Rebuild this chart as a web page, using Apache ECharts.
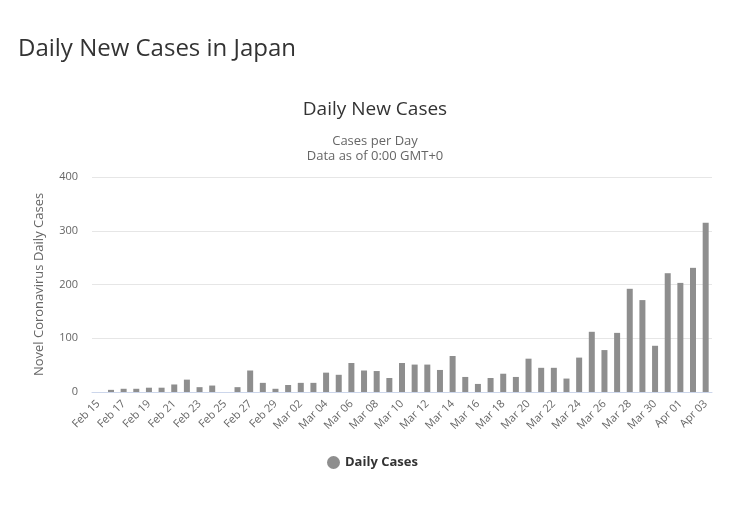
<!DOCTYPE html>
<html>
<head>
<meta charset="utf-8">
<script src="https://cdn.jsdelivr.net/npm/echarts@6/dist/echarts.min.js"></script>
<style>
html,body{margin:0;padding:0;background:#fff;}
#chart{width:730px;height:515px;}
</style>
</head>
<body>
<div id="chart"></div>
<script>
const categories = ["Feb 15","Feb 16","Feb 17","Feb 18","Feb 19","Feb 20","Feb 21","Feb 22","Feb 23","Feb 24","Feb 25","Feb 26","Feb 27","Feb 28","Feb 29",
"Mar 01","Mar 02","Mar 03","Mar 04","Mar 05","Mar 06","Mar 07","Mar 08","Mar 09","Mar 10","Mar 11","Mar 12","Mar 13","Mar 14","Mar 15","Mar 16","Mar 17","Mar 18","Mar 19","Mar 20","Mar 21","Mar 22","Mar 23","Mar 24","Mar 25","Mar 26","Mar 27","Mar 28","Mar 29","Mar 30","Mar 31",
"Apr 01","Apr 02","Apr 03"];
const dailyCases = [0,4,6,6,8,8,14,23,9,12,0,9,40,17,6,
13,17,17,36,32,54,40,39,26,54,51,51,41,67,28,15,26,34,28,62,45,45,25,64,112,78,110,192,171,86,221,
203,231,315];
const yTicks = {min:0, max:400, interval:100};

const chart = echarts.init(document.getElementById('chart'));
const font = "'Open Sans', 'DejaVu Sans', sans-serif";
chart.setOption({
  backgroundColor:'#fff',
  animation:false,
  textStyle:{fontFamily:font},
  title:[
    {text:'Daily New Cases in Japan', left:13, top:32, textStyle:{fontSize:24, fontWeight:'normal', color:'#333', fontFamily:font}},
    {text:'Daily New Cases', left:370, textAlign:'center', top:95, textStyle:{fontSize:19, fontWeight:'normal', color:'#333', fontFamily:font}},
    {text:'Cases per Day', left:370, textAlign:'center', top:130, textStyle:{fontSize:13, fontWeight:'normal', color:'#666', fontFamily:font}},
    {text:'Data as of 0:00 GMT+0', left:370, textAlign:'center', top:145, textStyle:{fontSize:13, fontWeight:'normal', color:'#666', fontFamily:font}}
  ],
  legend:{
    data:['Daily Cases'], bottom:41, left:322, icon:'circle', itemWidth:13, itemHeight:13,
    textStyle:{fontSize:13, fontWeight:'bold', color:'#333', fontFamily:font}
  },
  grid:{left:92, right:18, top:177, bottom:123},
  xAxis:{
    type:'category', data:categories,
    axisLine:{lineStyle:{color:'#ccd6eb'}},
    axisTick:{show:false},
    axisLabel:{interval:1, rotate:45, color:'#666', fontSize:11, margin:10, fontFamily:font}
  },
  yAxis:{
    type:'value', min:yTicks.min, max:yTicks.max, interval:yTicks.interval,
    name:'Novel Coronavirus Daily Cases', nameLocation:'middle', nameGap:46, nameRotate:90,
    nameTextStyle:{color:'#666', fontSize:13, fontFamily:font},
    axisLine:{show:false}, axisTick:{show:false},
    axisLabel:{color:'#666', fontSize:11, margin:14, fontFamily:font},
    splitLine:{lineStyle:{color:'#e6e6e6'}}
  },
  series:[{
    name:'Daily Cases', type:'bar', data:dailyCases, barWidth:6,
    itemStyle:{color:'#8e8e8e'}
  }]
});
</script>
</body>
</html>
